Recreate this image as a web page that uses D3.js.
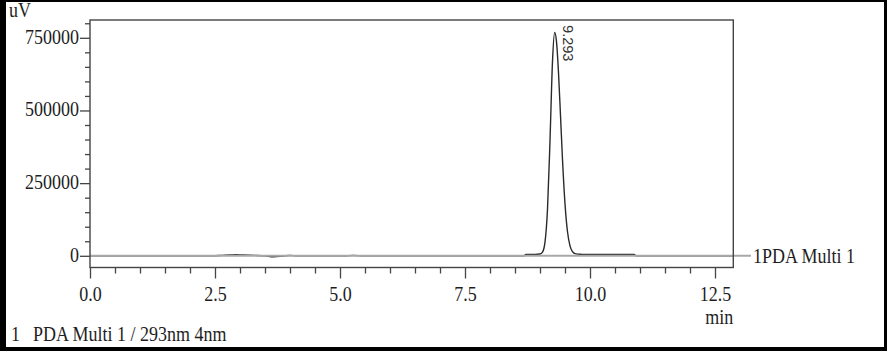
<!DOCTYPE html>
<html><head><meta charset="utf-8">
<script src="https://cdn.jsdelivr.net/npm/d3@7"></script>
<style>html,body{margin:0;padding:0;background:#fff;} svg{display:block;}</style>
</head><body>
<svg id="chart" width="887" height="351"></svg>
<script>
// ---- data ----
const retentionTimes = [0, 1.0, 2.0, 2.45, 2.65, 2.8, 2.92, 3.05, 3.3, 3.5, 3.67, 3.85, 4.0, 4.15, 4.6, 5.1, 5.26, 5.45, 6.5, 7.5, 8.5, 8.68, 8.72, 8.9, 9.0, 9.05, 9.1, 9.15, 9.2, 9.25, 9.293, 9.33, 9.37, 9.41, 9.45, 9.5, 9.55, 9.6, 9.65, 9.7, 9.8, 9.9, 10.2, 10.6, 10.88, 10.92, 11.5, 12.2, 12.86];
const signal = [0, 0, 0, 0, 1500, 2500, 4000, 2500, 1500, 0, -3500, -1000, 1500, 0, 0, 0, 1500, 0, 0, 0, 0, 0, 5000, 5000, 6000, 12500, 47000, 160000, 396000, 669000, 768000, 737000, 630000, 483000, 331000, 178500, 82700, 34200, 14000, 7400, 5100, 5000, 5000, 5000, 5000, 0, 0, 0, 0];
const peakTimes = [9.293];
const peakHeights = [768000];
const xTickValues = [0, 2.5, 5, 7.5, 10, 12.5];
const xMinorTicks = [0.5, 1, 1.5, 2, 3, 3.5, 4, 4.5, 5.5, 6, 6.5, 7, 8, 8.5, 9, 9.5, 10.5, 11, 11.5, 12];
const yTickValues = [0, 250000, 500000, 750000];
const yMinorTicks = [50000, 100000, 150000, 200000, 300000, 350000, 400000, 450000, 550000, 600000, 650000, 700000, 800000];
const yAxisTitle = "uV";
const xAxisTitle = "min";
const channelLabel = "1PDA Multi 1";
const footerIndex = "1";
const footerText = "PDA Multi 1 / 293nm 4nm";

// ---- layout ----
const svg = d3.select("#chart");
const plot = {left: 90, top: 20, right: 733.3, bottom: 267.5};
const x = d3.scaleLinear().domain([0, 12.866]).range([plot.left, plot.right]);
const y = d3.scaleLinear().domain([0, 750000]).range([255.8, 37.8]);
const SY = 1.22;
const serif = "'Liberation Serif', 'Times New Roman', serif";
const textColor = "#1e1e1e";
const axisColor = "#444";

svg.append("rect").attr("width", 887).attr("height", 351).attr("fill", "#fff");

svg.append("clipPath").attr("id", "clip").append("rect")
  .attr("x", plot.left).attr("y", plot.top)
  .attr("width", plot.right - plot.left).attr("height", plot.bottom - plot.top);

// chromatogram trace
const pts = retentionTimes.map((t, i) => [t, signal[i]]);
svg.append("path")
  .datum(pts)
  .attr("clip-path", "url(#clip)")
  .attr("fill", "none")
  .attr("stroke", "#2a2a2a")
  .attr("stroke-width", 1.4)
  .attr("d", d3.line().x(d => x(d[0])).y(d => y(d[1])).curve(d3.curveMonotoneX));

// channel zero line (gray) extending to the channel label
svg.append("line")
  .attr("x1", x(0)).attr("x2", 751)
  .attr("y1", y(0)).attr("y2", y(0))
  .attr("stroke", "#a8a8a8").attr("stroke-width", 2);

// frame
svg.append("rect")
  .attr("x", plot.left).attr("y", plot.top)
  .attr("width", plot.right - plot.left).attr("height", plot.bottom - plot.top)
  .attr("fill", "none").attr("stroke", axisColor).attr("stroke-width", 1.4);

// y axis
const yAxisMinor = svg.append("g").attr("transform", `translate(${plot.left},0)`)
  .call(d3.axisLeft(y).tickValues(yMinorTicks).tickSize(5).tickFormat(""));
const yAxis = svg.append("g").attr("transform", `translate(${plot.left},0)`)
  .call(d3.axisLeft(y).tickValues(yTickValues).tickSize(10).tickPadding(1).tickFormat(d3.format("d")));
[yAxisMinor, yAxis].forEach(g => {
  g.select(".domain").remove();
  g.selectAll("line").attr("stroke", axisColor).attr("stroke-width", 1.3);
});
yAxis.selectAll("text")
  .attr("font-family", serif).attr("font-size", 18).attr("fill", textColor)
  .attr("dy", "0.25em")
  .attr("transform", `scale(1,${SY})`);

// x axis
const xAxisMinor = svg.append("g").attr("transform", `translate(0,${plot.bottom})`)
  .call(d3.axisBottom(x).tickValues(xMinorTicks).tickSize(6).tickFormat(""));
const xAxis = svg.append("g").attr("transform", `translate(0,${plot.bottom})`)
  .call(d3.axisBottom(x).tickValues(xTickValues).tickSize(11).tickFormat(d3.format(".1f")));
[xAxisMinor, xAxis].forEach(g => {
  g.select(".domain").remove();
  g.selectAll("line").attr("stroke", axisColor).attr("stroke-width", 1.3);
});
xAxis.selectAll("text")
  .attr("font-family", serif).attr("font-size", 18).attr("fill", textColor)
  .attr("y", 27.5).attr("dy", 0)
  .attr("transform", `scale(1,${SY})`);

// helper for stretched serif text
function label(txt, px, py, anchor) {
  svg.append("text")
    .attr("transform", `translate(${px},${py}) scale(1,${SY})`)
    .attr("text-anchor", anchor || "start")
    .attr("font-family", serif).attr("font-size", 18).attr("fill", textColor)
    .attr("xml:space", "preserve")
    .text(txt);
}
label(yAxisTitle, 9, 17);
label(xAxisTitle, plot.right, 324, "end");
label(channelLabel, 753, 262.5);
label(footerIndex, 11, 341);
label(footerText, 33, 341);

// peak retention time label (rotated)
peakTimes.forEach((t, i) => {
  svg.append("text")
    .attr("transform", `translate(${x(t) + 8.5},${y(peakHeights[i]) - 7.5}) rotate(90)`)
    .attr("font-family", "'Liberation Sans', Arial, sans-serif")
    .attr("font-size", 14.5).attr("fill", "#333")
    .text(d3.format(".3f")(t));
});

// outer black border
svg.append("rect").attr("x", 0).attr("y", 0).attr("width", 887).attr("height", 2).attr("fill", "#000");
svg.append("rect").attr("x", 0).attr("y", 0).attr("width", 6).attr("height", 351).attr("fill", "#000");
svg.append("rect").attr("x", 884).attr("y", 0).attr("width", 3).attr("height", 351).attr("fill", "#000");
svg.append("rect").attr("x", 0).attr("y", 347).attr("width", 887).attr("height", 4).attr("fill", "#000");
</script>
</body></html>
